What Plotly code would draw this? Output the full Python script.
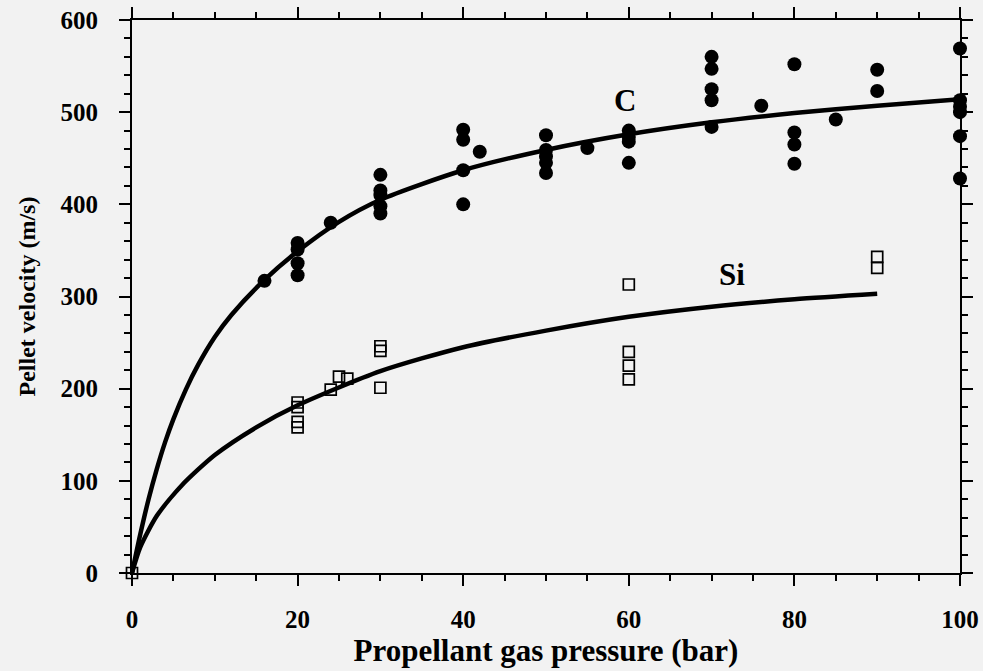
import plotly.graph_objects as go

# ---- data ----
c_pressure = [16, 20, 20, 20, 20, 24, 30, 30, 30, 30, 30, 40, 40, 40, 40, 42,
              50, 50, 50, 50, 50, 55, 60, 60, 60, 60, 70, 70, 70, 70, 70, 76,
              80, 80, 80, 80, 85, 90, 90, 100, 100, 100, 100, 100, 100]
c_velocity = [317, 358, 351, 336, 323, 380, 432, 415, 410, 398, 390, 481, 470, 437, 400, 457,
              475, 459, 452, 445, 434, 461, 480, 473, 468, 445, 560, 547, 525, 513, 484, 507,
              552, 478, 465, 444, 492, 546, 523, 569, 513, 506, 500, 474, 428]

si_pressure = [0, 20, 20, 20, 20, 24, 25, 26, 30, 30, 30, 60, 60, 60, 60, 90, 90]
si_velocity = [0, 185, 180, 164, 158, 199, 213, 211, 246, 241, 201, 313, 240, 225, 210, 343, 331]

c_curve_x = [0, 1, 2, 3, 4, 5, 6.5, 8, 10, 12, 16, 20, 25, 30, 40, 50, 60, 70, 80, 90, 100]
c_curve_y = [0, 42, 80, 113, 142, 167, 199, 226, 256, 280, 318, 349, 381, 405, 437, 459, 476, 489, 499, 507, 514]

si_curve_x = [0, 1, 3, 6, 10, 15, 20, 30, 40, 50, 60, 70, 80, 90]
si_curve_y = [0, 28, 62, 95, 128, 158, 182, 219, 245, 263, 278, 289, 297, 303]

x_ticks = [0, 20, 40, 60, 80, 100]
y_ticks = [0, 100, 200, 300, 400, 500, 600]

FONT = "Liberation Serif"
BG = "#f2f2f2"

fig = go.Figure()

fig.add_trace(go.Scatter(x=c_curve_x, y=c_curve_y, mode="lines",
                         line=dict(color="black", width=4.5, shape="spline", smoothing=0.7),
                         hoverinfo="skip", showlegend=False))
fig.add_trace(go.Scatter(x=si_curve_x, y=si_curve_y, mode="lines",
                         line=dict(color="black", width=4.5, shape="spline", smoothing=0.7),
                         hoverinfo="skip", showlegend=False))
fig.add_trace(go.Scatter(x=c_pressure, y=c_velocity, mode="markers", name="C",
                         marker=dict(symbol="circle", size=14, color="black"),
                         cliponaxis=False, showlegend=False))
fig.add_trace(go.Scatter(x=si_pressure, y=si_velocity, mode="markers", name="Si",
                         marker=dict(symbol="square-open", size=11, color="black",
                                     line=dict(width=1.7, color="black")),
                         cliponaxis=False, showlegend=False))

fig.add_annotation(x=59.5, y=513, text="C", showarrow=False,
                   font=dict(family=FONT, size=31, color="black", weight="bold"))
fig.add_annotation(x=72.5, y=324, text="Si", showarrow=False,
                   font=dict(family=FONT, size=31, color="black", weight="bold"))

axis_common = dict(
    showline=True, linecolor="black", linewidth=2, mirror="allticks",
    ticks="outside", ticklen=11, tickwidth=2, tickcolor="black",
    showgrid=False, zeroline=False, automargin=False,
    tickfont=dict(family=FONT, size=25, color="black", weight="bold"),
)

fig.update_xaxes(range=[0, 100], tickvals=x_ticks,
                 minor=dict(dtick=5, ticks="outside", ticklen=6, tickwidth=1.5, tickcolor="black"),
                 ticklabelstandoff=12,
                 title=dict(text="Propellant gas pressure (bar)", standoff=2,
                            font=dict(family=FONT, size=31, color="black", weight="bold")),
                 **axis_common)
fig.update_yaxes(range=[0, 600], tickvals=y_ticks,
                 minor=dict(dtick=20, ticks="outside", ticklen=6, tickwidth=1.5, tickcolor="black"),
                 ticklabelstandoff=16,
                 title=dict(text="Pellet velocity (m/s)", standoff=18,
                            font=dict(family=FONT, size=24, color="black", weight="bold")),
                 **axis_common)

fig.update_layout(width=983, height=671, margin=dict(l=132, r=23, t=20, b=98),
                  paper_bgcolor=BG, plot_bgcolor=BG)

fig.write_html("out.html")
